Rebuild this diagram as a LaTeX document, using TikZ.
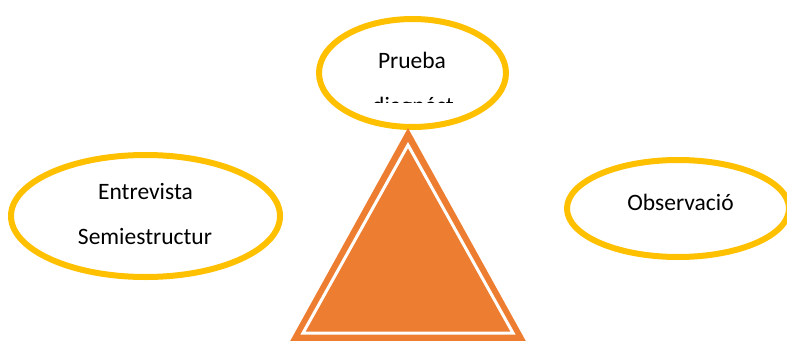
\documentclass[tikz,border=0pt]{standalone}
\usepackage{fontspec}
\setmainfont{Carlito}
\usetikzlibrary{shapes.geometric}
\definecolor{gold}{HTML}{FFC000}
\definecolor{orng}{HTML}{ED7D31}
\begin{document}
\begin{tikzpicture}[x=1pt,y=-1pt,
  oval/.style={ellipse, draw=gold, line width=6pt, fill=white, inner sep=0pt},
  lbl/.style={font=\fontsize{23.5}{28}\selectfont, inner sep=0pt, anchor=base}]
\useasboundingbox (0,0) rectangle (787,340);
\clip (0,0) rectangle (787,340);
\node[oval, minimum width=187pt, minimum height=108pt] (top) at (412.5,73) {};
\node[oval, minimum width=269pt, minimum height=122pt] (left) at (145.5,216) {};
\node[oval, minimum width=222pt, minimum height=97pt] (right) at (678,208.5) {};
\node[lbl] (prueba) at (412,68) {Prueba};
\begin{scope}
  \clip (300,0) rectangle (520,102);
  \node[lbl] (diag) at (413,113) {diagnóst};
\end{scope}
\node[lbl] (entre) at (145.5,199) {Entrevista};
\node[lbl] (semi) at (145,244) {Semiestructur};
\node[lbl] (obs) at (680.5,210) {Observació};
\fill[orng] (408,128) -- (288,345) -- (528,345) -- cycle;
\draw[white, line width=3pt, line join=miter] (408,145) -- (303,333) -- (513,333) -- cycle;
\end{tikzpicture}
\end{document}
